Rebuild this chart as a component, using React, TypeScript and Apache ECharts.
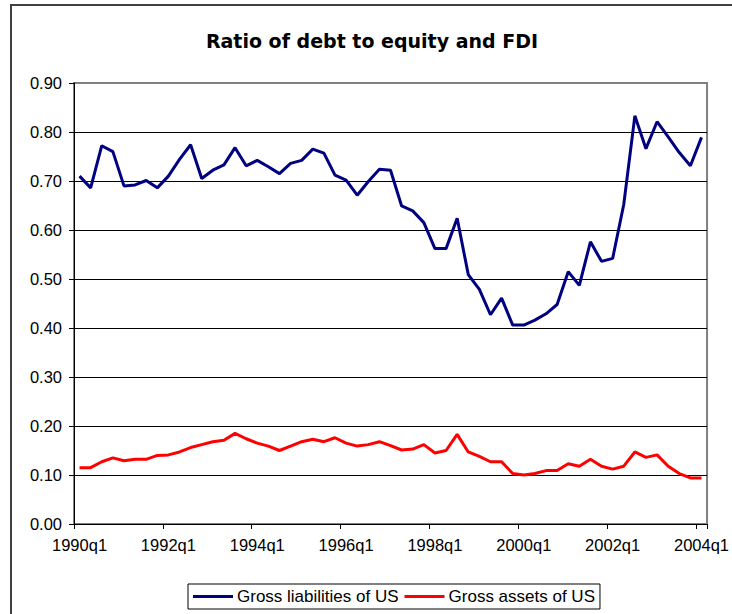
import React, { useEffect, useRef } from "react";
import * as echarts from "echarts";

const quarters: string[] = [
  "1990q1","1990q2","1990q3","1990q4","1991q1","1991q2","1991q3","1991q4",
  "1992q1","1992q2","1992q3","1992q4","1993q1","1993q2","1993q3","1993q4",
  "1994q1","1994q2","1994q3","1994q4","1995q1","1995q2","1995q3","1995q4",
  "1996q1","1996q2","1996q3","1996q4","1997q1","1997q2","1997q3","1997q4",
  "1998q1","1998q2","1998q3","1998q4","1999q1","1999q2","1999q3","1999q4",
  "2000q1","2000q2","2000q3","2000q4","2001q1","2001q2","2001q3","2001q4",
  "2002q1","2002q2","2002q3","2002q4","2003q1","2003q2","2003q3","2003q4",
  "2004q1",
];

const grossLiabilities: number[] = [
  0.710, 0.686, 0.772, 0.760, 0.690, 0.692, 0.701, 0.686,
  0.710, 0.744, 0.774, 0.705, 0.722, 0.733, 0.768, 0.731,
  0.742, 0.729, 0.715, 0.736, 0.742, 0.765, 0.757, 0.712,
  0.702, 0.671, 0.699, 0.724, 0.722, 0.649, 0.639, 0.615,
  0.562, 0.562, 0.624, 0.509, 0.479, 0.427, 0.461, 0.406,
  0.406, 0.416, 0.429, 0.448, 0.515, 0.487, 0.576, 0.536,
  0.542, 0.652, 0.833, 0.766, 0.821, 0.790, 0.758, 0.731,
  0.789,
];

const grossAssets: number[] = [
  0.115, 0.115, 0.127, 0.135, 0.129, 0.132, 0.132, 0.140,
  0.141, 0.147, 0.156, 0.162, 0.168, 0.171, 0.185, 0.174,
  0.165, 0.159, 0.150, 0.159, 0.168, 0.173, 0.168, 0.176,
  0.165, 0.159, 0.162, 0.168, 0.160, 0.151, 0.153, 0.162,
  0.145, 0.150, 0.183, 0.147, 0.138, 0.127, 0.127, 0.103,
  0.100, 0.103, 0.109, 0.109, 0.123, 0.118, 0.132, 0.118,
  0.112, 0.118, 0.147, 0.136, 0.141, 0.118, 0.103, 0.094,
  0.094,
];

const TITLE = "Ratio of debt to equity and FDI";
const SERIES_NAMES = ["Gross liabilities of US", "Gross assets of US"];

export default function App() {
  const ref = useRef<HTMLDivElement>(null);
  useEffect(() => {
    if (!ref.current) return;
    const chart = echarts.init(ref.current, null, { renderer: "svg" });
    const font = "'Liberation Sans', Arial, sans-serif";
    chart.setOption({
      animation: false,
      backgroundColor: "#ffffff",
      title: {
        text: TITLE,
        left: 372,
        textAlign: "center",
        top: 31,
        padding: 0,
        textStyle: {
          fontFamily: "'DejaVu Sans', Verdana, sans-serif",
          fontWeight: "bold",
          fontSize: 19,
          color: "#000",
        },
      },
      graphic: [
        {
          type: "rect",
          silent: true,
          shape: { x: 11, y: 5, width: 800, height: 700 },
          style: { fill: "none", stroke: "#404040", lineWidth: 2 },
          z: 100,
        },
      ],
      legend: {
        left: 188,
        top: 584,
        padding: [4, 5, 4, 5],
        itemGap: 6,
        itemWidth: 40,
        itemHeight: 3,
        icon: "rect",
        borderColor: "#000",
        borderWidth: 1,
        borderRadius: 0,
        textStyle: { fontFamily: font, fontSize: 17, color: "#000", padding: [0, 0, 0, -1] },
        data: SERIES_NAMES,
      },
      grid: {
        left: 74,
        right: 22,
        top: 83,
        bottom: 90,
        show: true,
        borderColor: "#808080",
        borderWidth: 2,
        backgroundColor: "transparent",
      },
      xAxis: {
        type: "category",
        data: quarters,
        boundaryGap: true,
        axisLine: { show: true, lineStyle: { color: "#000", width: 1 } },
        axisTick: { show: true, interval: 7, length: 5, lineStyle: { color: "#000" } },
        axisLabel: {
          interval: 7,
          margin: 12,
          fontFamily: font,
          fontSize: 16.5,
          color: "#000",
        },
        splitLine: { show: false },
      },
      yAxis: {
        type: "value",
        min: 0,
        max: 0.9,
        interval: 0.1,
        axisLine: { show: true, lineStyle: { color: "#000", width: 1 } },
        axisTick: { show: true, length: 5, lineStyle: { color: "#000" } },
        axisLabel: {
          margin: 12,
          fontFamily: font,
          fontSize: 16.5,
          color: "#000",
          formatter: (v: number) => v.toFixed(2),
        },
        splitLine: {
          show: true,
          showMaxLine: false,
          lineStyle: { color: "#000", width: 1 },
        },
      },
      series: [
        {
          name: SERIES_NAMES[0],
          type: "line",
          data: grossLiabilities,
          showSymbol: false,
          symbol: "none",
          lineStyle: { color: "#000080", width: 3 },
          itemStyle: { color: "#000080" },
        },
        {
          name: SERIES_NAMES[1],
          type: "line",
          data: grossAssets,
          showSymbol: false,
          symbol: "none",
          lineStyle: { color: "#ff0000", width: 3 },
          itemStyle: { color: "#ff0000" },
        },
      ],
    });
    return () => chart.dispose();
  }, []);
  return (
    <div
      ref={ref}
      style={{ position: "fixed", left: 0, top: 0, width: 732, height: 614 }}
    />
  );
}
